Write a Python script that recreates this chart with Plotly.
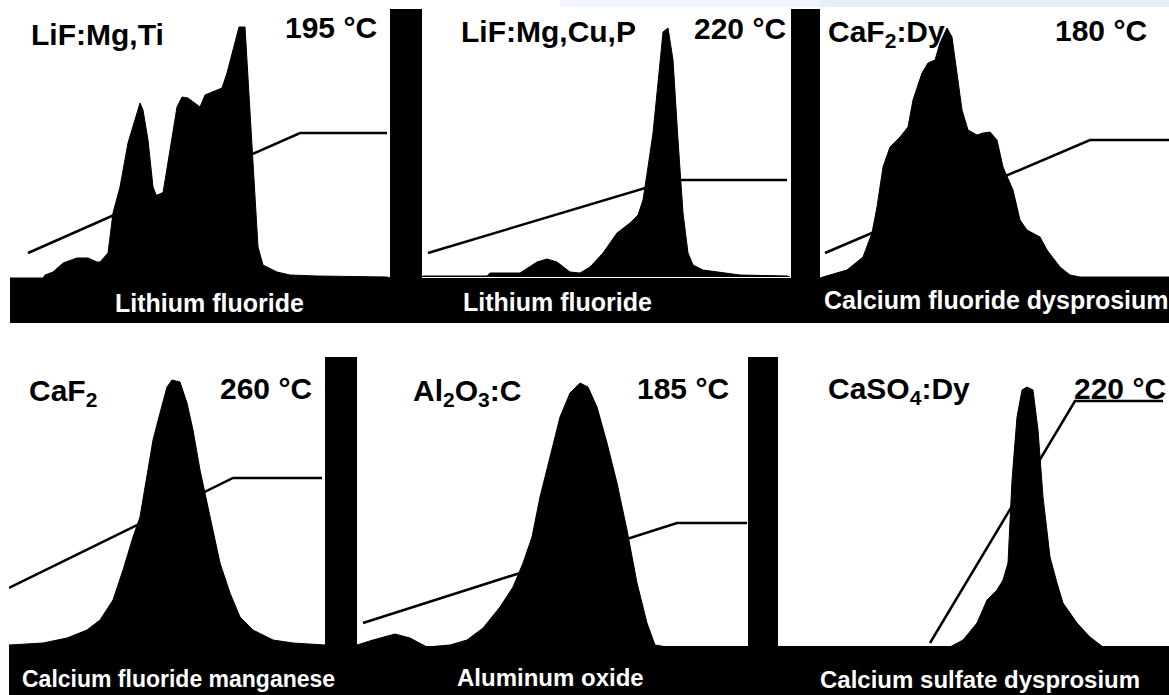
import plotly.graph_objects as go

W, H = 1169, 695

# ---- Glow curves: channel (heating time) vs. TL counts, one pair per dosimeter ----
lif_mgti_ch = [0, 33, 35, 43, 53, 67, 78, 87, 90, 98, 103, 110, 118, 123, 130, 133, 138, 143, 147,
               153, 160, 167, 172, 178, 190, 195, 212, 217, 223, 229, 235, 238, 242, 245, 248, 253,
               267, 280, 307, 377, 380]
lif_mgti_counts = [0, 0, 3, 6, 15, 20, 20, 16, 16, 25, 65, 91, 135, 151, 175, 168, 138, 91, 81,
                   85, 128, 171, 181, 180, 171, 183, 190, 205, 228, 251, 251, 198, 128, 71, 31, 13,
                   6, 3, 2, 1, 0]

lif_mgcup_ch = [0, 1, 65, 68, 98, 115, 125, 135, 148, 158, 168, 181, 195, 208, 216, 221, 226, 231,
                236, 241, 246, 251, 256, 261, 266, 271, 281, 301, 318, 365, 368]
lif_mgcup_counts = [0, 1, 1, 4, 4, 15, 18, 15, 5, 4, 10, 24, 44, 54, 62, 77, 110, 144,
                    194, 245, 249, 217, 137, 64, 24, 12, 7, 4, 2, 1, 0]

caf2_dy_ch = [0, 3, 27, 43, 52, 57, 63, 70, 80, 88, 93, 102, 108, 115, 120, 127, 132, 137, 142,
              148, 157, 163, 170, 177, 183, 193, 200, 207, 220, 227, 240, 250, 260, 349]
caf2_dy_counts = [0, 1, 8, 21, 45, 71, 111, 131, 141, 151, 178, 205, 215, 218, 235, 250, 241, 205,
                  168, 148, 143, 145, 146, 138, 111, 88, 58, 48, 41, 28, 11, 3, 1, 1]

caf2_mn_ch = [0, 34, 58, 78, 91, 104, 114, 124, 131, 138, 144, 151, 158, 163, 171, 178, 184, 191,
              198, 204, 211, 221, 231, 244, 264, 284, 316]
caf2_mn_counts = [1, 3, 8, 16, 26, 46, 76, 109, 129, 173, 206, 233, 259, 266, 264, 243, 216, 176,
                  143, 113, 83, 53, 29, 16, 6, 3, 1]

al2o3_c_ch = [0, 16, 38, 53, 70, 93, 110, 126, 143, 156, 166, 175, 183, 193, 203, 213, 223, 231,
              240, 250, 260, 270, 280, 290, 298, 316, 391]
al2o3_c_counts = [3, 8, 14, 10, 1, 3, 8, 20, 41, 61, 85, 111, 151, 191, 231, 255, 265, 261,
                  241, 205, 165, 118, 65, 25, 3, 0, 0]

caso4_dy_ch = [0, 2, 152, 172, 185, 199, 209, 219, 225, 230, 234, 239, 244, 249, 255, 260, 265,
               272, 279, 285, 299, 312, 325, 339, 391]
caso4_dy_counts = [0, 0, 1, 4, 11, 28, 51, 61, 71, 88, 171, 234, 261, 264, 261, 221, 154,
                   94, 68, 48, 28, 14, 4, 0, 0]

# ---- Heating profiles: linear ramp, then hold at the readout temperature ----
lif_mgti_ramp_ch = [18, 290, 377]
lif_mgti_ramp_t = [25, 145, 145]
lif_mgcup_ramp_ch = [6, 250, 365]
lif_mgcup_ramp_t = [24, 97, 97]
caf2_dy_ramp_ch = [5, 270, 349]
caf2_dy_ramp_t = [25, 138, 138]
caf2_mn_ramp_ch = [0, 224, 313]
caf2_mn_ramp_t = [58, 168, 168]
al2o3_c_ramp_ch = [6, 320, 390]
al2o3_c_ramp_t = [25, 125, 125]
caso4_dy_ramp_ch = [152, 297, 385]
caso4_dy_ramp_t = [8, 250, 250]

# ---- Labels ----
formulas = ["LiF:Mg,Ti", "LiF:Mg,Cu,P", "CaF<sub>2</sub>:Dy",
            "CaF<sub>2</sub>", "Al<sub>2</sub>O<sub>3</sub>:C", "CaSO<sub>4</sub>:Dy"]
peak_temps = ["195 °C", "220 °C", "180 °C", "260 °C", "185 °C", "220 °C"]
names = ["Lithium fluoride", "Lithium fluoride", "Calcium fluoride dysprosium",
         "Calcium fluoride manganese", "Aluminum oxide", "Calcium sulfate dysprosium"]

curves = [
    (lif_mgti_ch, lif_mgti_counts, lif_mgti_ramp_ch, lif_mgti_ramp_t),
    (lif_mgcup_ch, lif_mgcup_counts, lif_mgcup_ramp_ch, lif_mgcup_ramp_t),
    (caf2_dy_ch, caf2_dy_counts, caf2_dy_ramp_ch, caf2_dy_ramp_t),
    (caf2_mn_ch, caf2_mn_counts, caf2_mn_ramp_ch, caf2_mn_ramp_t),
    (al2o3_c_ch, al2o3_c_counts, al2o3_c_ramp_ch, al2o3_c_ramp_t),
    (caso4_dy_ch, caso4_dy_counts, caso4_dy_ramp_ch, caso4_dy_ramp_t),
]

# Panel frames in pixels: left, right, top, baseline
frames = [
    (10, 390, 8, 278), (422, 790, 8, 277), (820, 1169, 8, 278),
    (9, 325, 357, 646), (357, 748, 357, 648), (778, 1169, 357, 651),
]
# Label placement in pixels: formula left edge, temperature right edge, cap top of both,
# name centre and cap top
formula_pos = [(30, 23), (460, 20), (827, 20), (28, 379), (412, 379), (827, 377)]
temp_pos = [(378, 16), (787, 17), (1148, 19), (313, 377), (730, 377), (1167, 377)]
name_pos = [(209, 293, 25), (557, 292, 25), (996, 290, 25),
            (178, 670, 23), (550, 668, 24), (980, 670, 24)]

FONT = "Liberation Sans, Arial, sans-serif"


def px(x):
    return x / W


def py(y):
    return 1 - y / H


fig = go.Figure()
layout = dict(
    width=W, height=H, margin=dict(l=0, r=0, t=0, b=0),
    paper_bgcolor="white", plot_bgcolor="rgba(0,0,0,0)", showlegend=False,
)

for i, ((ch, counts, rch, rt), (x0, x1, top, base)) in enumerate(zip(curves, frames)):
    n = "" if i == 0 else str(i + 1)
    fig.add_trace(go.Scatter(
        x=ch, y=counts, mode="lines", fill="tozeroy", fillcolor="black",
        line=dict(color="black", width=1), xaxis="x" + n, yaxis="y" + n, hoverinfo="skip"))
    fig.add_trace(go.Scatter(
        x=rch, y=rt, mode="lines", line=dict(color="black", width=2.5),
        xaxis="x" + n, yaxis="y" + n, hoverinfo="skip"))
    layout["xaxis" + n] = dict(domain=[px(x0), px(x1)], range=[0, x1 - x0], visible=False,
                               anchor="y" + n, fixedrange=True)
    layout["yaxis" + n] = dict(domain=[py(base), py(top)], range=[0, base - top], visible=False,
                               anchor="x" + n, fixedrange=True)

fig.update_layout(**layout)

# Black frame: separator columns and the name bands under each row
blocks = [
    (390, 9, 422, 279), (791, 9, 820, 279), (325, 357, 357, 647), (748, 357, 778, 651),
    (10, 278, 1169, 323), (9, 646, 1169, 695),
]
for (a, b, c, d) in blocks:
    fig.add_shape(type="rect", xref="paper", yref="paper", x0=px(a), x1=px(c), y0=py(d), y1=py(b),
                  fillcolor="black", line=dict(width=0), layer="above")

# Pale blue strip along the top edge
for (a, c, col) in [(560, 1169, "#f1f5fc"), (820, 1169, "#e6eef9")]:
    fig.add_shape(type="rect", xref="paper", yref="paper", x0=px(a), x1=px(c), y0=py(7), y1=1,
                  fillcolor=col, line=dict(width=0), layer="below")

for i in range(6):
    fx, fy = formula_pos[i]
    fig.add_annotation(text="<b>" + formulas[i] + "</b>", xref="paper", yref="paper",
                       x=px(fx - 1), y=py(fy - 7), xanchor="left", yanchor="top", showarrow=False,
                       font=dict(family=FONT, size=30, color="black"))
    tx, ty = temp_pos[i]
    fig.add_annotation(text="<b>" + peak_temps[i] + "</b>", xref="paper", yref="paper",
                       x=px(tx + 1), y=py(ty - 7), xanchor="right", yanchor="top", showarrow=False,
                       font=dict(family=FONT, size=30, color="black"))
    nx, ny, ns = name_pos[i]
    fig.add_annotation(text="<b>" + names[i] + "</b>", xref="paper", yref="paper",
                       x=px(nx), y=py(ny - 6), xanchor="center", yanchor="top", showarrow=False,
                       font=dict(family=FONT, size=ns, color="white"))

fig.write_html("out.html")
